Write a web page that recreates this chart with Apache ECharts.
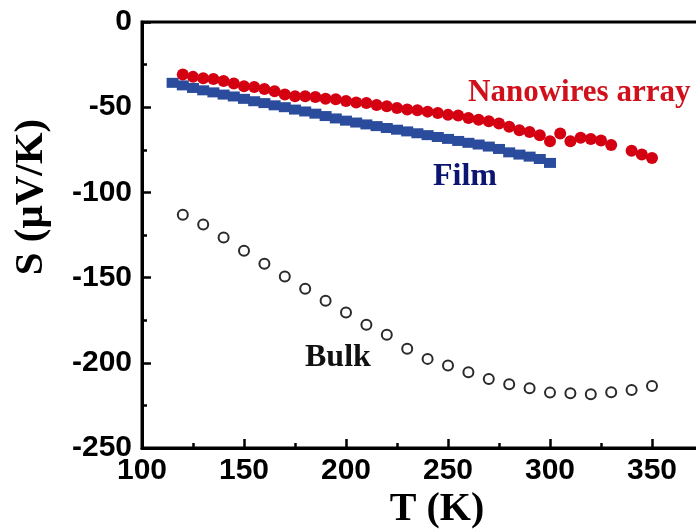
<!DOCTYPE html>
<html><head><meta charset="utf-8">
<script src="https://cdn.jsdelivr.net/npm/echarts@6/dist/echarts.min.js"></script>
<style>html,body{margin:0;padding:0;background:#fff}#c{width:696px;height:532px}</style>
</head><body><div id="c"></div>
<script>
const nanoT=[120,125,130,135,140,145,150,155,160,165,170,175,180,185,190,195,200,205,210,215,220,225,230,235,240,245,250,255,260,265,270,275,280,285,290,295,300,305,310,315,320,325,330,340,345,350];
const nanoS=[-30.8,-32.2,-33.0,-33.4,-34.6,-36.1,-37.7,-38.1,-39.3,-40.6,-42.6,-43.6,-43.6,-44.0,-45.0,-45.3,-46.3,-47.2,-47.5,-48.7,-49.4,-50.5,-51.4,-51.8,-52.6,-53.4,-54.5,-54.9,-56.3,-57.3,-58.3,-59.6,-61.5,-63.5,-64.5,-66.5,-70.0,-65.5,-70.0,-67.9,-68.6,-69.6,-72.2,-75.5,-77.7,-79.8];
const filmT=[115,120,125,130,135,140,145,150,155,160,165,170,175,180,185,190,195,200,205,210,215,220,225,230,235,240,245,250,255,260,265,270,275,280,285,290,295,300];
const filmS=[-35.7,-37.2,-38.7,-40.1,-41.3,-42.6,-43.7,-45.1,-46.5,-47.6,-48.9,-50.0,-51.4,-52.5,-53.8,-55.2,-56.6,-57.9,-59.0,-60.1,-61.1,-62.2,-63.2,-64.2,-65.3,-66.4,-67.5,-68.6,-69.8,-70.9,-71.9,-73.1,-74.5,-76.5,-77.8,-79.0,-80.4,-82.7];
const bulkT=[120,130,140,150,160,170,180,190,200,210,220,230,240,250,260,270,280,290,300,310,320,330,340,350];
const bulkS=[-113.1,-118.8,-126.4,-134.3,-141.9,-149.3,-156.6,-163.6,-170.5,-177.7,-183.6,-191.8,-197.7,-201.6,-205.5,-209.5,-212.6,-214.9,-217.5,-217.9,-218.5,-217.3,-215.9,-213.6];
const seriesNames=['Nanowires array','Film','Bulk'];
const xTitle='T (K)';
const yTitle='S (\u03BCV/K)';

const zip=(a,b)=>a.map((v,i)=>[v,b[i]]);
const chart=echarts.init(document.getElementById('c'),null,{renderer:'canvas'});
const tickLabel={fontFamily:'"Liberation Sans", Arial, sans-serif',fontWeight:'bold',fontSize:30,color:'#000'};
const axisCommon={
  axisLine:{show:true,onZero:false,lineStyle:{color:'#000',width:3}},
  axisTick:{show:true,inside:true,length:9,lineStyle:{color:'#000',width:2.5}},
  minorTick:{show:true,splitNumber:2,length:5,lineStyle:{color:'#000',width:2.5}},
  splitLine:{show:false},
  minorSplitLine:{show:false}
};
chart.setOption({
  animation:false,
  backgroundColor:'#fff',
  grid:{left:142,top:22,width:612,height:426,show:true,borderColor:'#000',borderWidth:3,containLabel:false,outerBoundsMode:'none'},
  xAxis:Object.assign({type:'value',min:100,max:400,interval:50,
    axisLabel:Object.assign({margin:8},tickLabel)},axisCommon),
  yAxis:Object.assign({type:'value',min:-250,max:0,interval:50,
    axisLabel:Object.assign({margin:10},tickLabel)},axisCommon),
  series:[
    {name:seriesNames[1],type:'scatter',data:zip(filmT,filmS),symbol:'rect',symbolSize:[12,10],
      itemStyle:{color:'#2b4c9c',opacity:1},z:2},
    {name:seriesNames[0],type:'scatter',data:zip(nanoT,nanoS),symbol:'circle',symbolSize:12,
      itemStyle:{color:'#d40012',opacity:1},z:3},
    {name:seriesNames[2],type:'scatter',data:zip(bulkT,bulkS),symbol:'emptyCircle',symbolSize:10,
      itemStyle:{color:'#2a2a2a',borderColor:'#2a2a2a',borderWidth:1.2,opacity:1},z:2}
  ],
  graphic:[
    {type:'text',x:468,y:92.5,style:{text:seriesNames[0],font:'bold 31px "Liberation Serif", "Times New Roman", serif',fill:'#d0101a',align:'left',verticalAlign:'middle',textAlign:'left',textVerticalAlign:'middle'}},
    {type:'text',x:433,y:177,style:{text:seriesNames[1],font:'bold 32px "Liberation Serif", "Times New Roman", serif',fill:'#0c1672',align:'left',verticalAlign:'middle',textAlign:'left',textVerticalAlign:'middle'}},
    {type:'text',x:305,y:357.5,style:{text:seriesNames[2],font:'bold 32px "Liberation Serif", "Times New Roman", serif',fill:'#111',align:'left',verticalAlign:'middle',textAlign:'left',textVerticalAlign:'middle'}},
    {type:'text',x:437,y:510,style:{text:xTitle,font:'bold 40px "Liberation Serif", "Times New Roman", serif',fill:'#000',align:'center',verticalAlign:'middle',textAlign:'center',textVerticalAlign:'middle'}},
    {type:'text',x:31,y:197,rotation:Math.PI/2,style:{text:yTitle,font:'bold 41px "Liberation Serif", "Times New Roman", serif',fill:'#000',align:'center',verticalAlign:'middle',textAlign:'center',textVerticalAlign:'middle'}}
  ]
});
</script></body></html>
